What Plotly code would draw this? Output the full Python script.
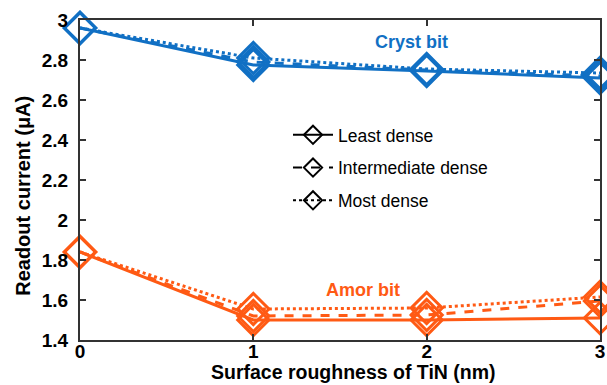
import plotly.graph_objects as go

# Surface roughness of TiN (nm)
roughness = [0, 1, 2, 3]

# Readout current (uA) for the crystalline bit
cryst_least = [2.96, 2.775, 2.745, 2.71]
cryst_inter = [2.96, 2.79, 2.75, 2.72]
cryst_most = [2.96, 2.81, 2.755, 2.735]

# Readout current (uA) for the amorphous bit
amor_least = [1.84, 1.50, 1.50, 1.51]
amor_inter = [1.84, 1.52, 1.525, 1.595]
amor_most = [1.84, 1.555, 1.56, 1.615]

legend_names = ["Least dense", "Intermediate dense", "Most dense"]
dash_styles = ["solid", "dash", "dot"]

BLUE = "#1170C4"
ORANGE = "#FF5A14"
FONT = "Liberation Sans, Arial, sans-serif"

fig = go.Figure()

series = [
    (cryst_least, BLUE, "solid"), (cryst_inter, BLUE, "dash"), (cryst_most, BLUE, "dot"),
    (amor_least, ORANGE, "solid"), (amor_inter, ORANGE, "dash"), (amor_most, ORANGE, "dot"),
]
for vals, color, dash in series:
    fig.add_trace(go.Scatter(
        x=roughness, y=vals, mode="lines+markers",
        line=dict(color=color, width=3, dash=dash),
        marker=dict(symbol="diamond-open", size=24, color=color, line=dict(width=3, color=color)),
        showlegend=False, cliponaxis=False,
    ))

# black legend entries describing the line styles, one group each for extra spacing
for name, dash in zip(legend_names, dash_styles):
    fig.add_trace(go.Scatter(
        x=[None], y=[None], mode="lines+markers", name=name, legendgroup=name,
        line=dict(color="black", width=2, dash=dash),
        marker=dict(symbol="diamond-open", size=14, color="black", line=dict(width=2, color="black")),
    ))

fig.add_annotation(x=1.91, y=2.89, text="<b>Cryst bit</b>", showarrow=False,
                   font=dict(family=FONT, size=18, color=BLUE))
fig.add_annotation(x=1.63, y=1.65, text="<b>Amor bit</b>", showarrow=False,
                   font=dict(family=FONT, size=18, color=ORANGE))

# axis titles
fig.add_annotation(xref="paper", yref="paper", x=0.525, y=-0.1, yanchor="middle",
                   text="<b>Surface roughness of TiN (nm)</b>", showarrow=False,
                   font=dict(family=FONT, size=19.5, color="black"))
fig.add_annotation(xref="paper", yref="paper", x=-0.11, y=0.45, xanchor="center",
                   yanchor="middle", textangle=-90,
                   text="<b>Readout current (\u03bcA)</b>", showarrow=False,
                   font=dict(family=FONT, size=20, color="black"))

axis_common = dict(
    showgrid=False, zeroline=False, showline=True, linecolor="#333333", linewidth=2,
    mirror="ticks", ticks="inside", ticklen=6, tickwidth=1.5, tickcolor="#333333",
    ticklabeloverflow="allow",
    tickfont=dict(family=FONT, size=19, color="black", weight="bold"),
)

fig.update_layout(
    width=607, height=385,
    margin=dict(l=80, r=2, t=20, b=45),
    paper_bgcolor="white", plot_bgcolor="white",
    font=dict(family=FONT, color="black"),
    xaxis=dict(range=[0, 3], tickvals=roughness, ticklabelstandoff=-7, **axis_common),
    yaxis=dict(range=[1.4, 3], dtick=0.2, ticklabelstandoff=6, **axis_common),
    legend=dict(x=0.4, y=0.697, xanchor="left", yanchor="top",
                traceorder="grouped", tracegroupgap=7,
                bgcolor="rgba(0,0,0,0)", font=dict(family=FONT, size=17.5, color="black"),
                itemwidth=40),
)

fig.write_html("out.html")
